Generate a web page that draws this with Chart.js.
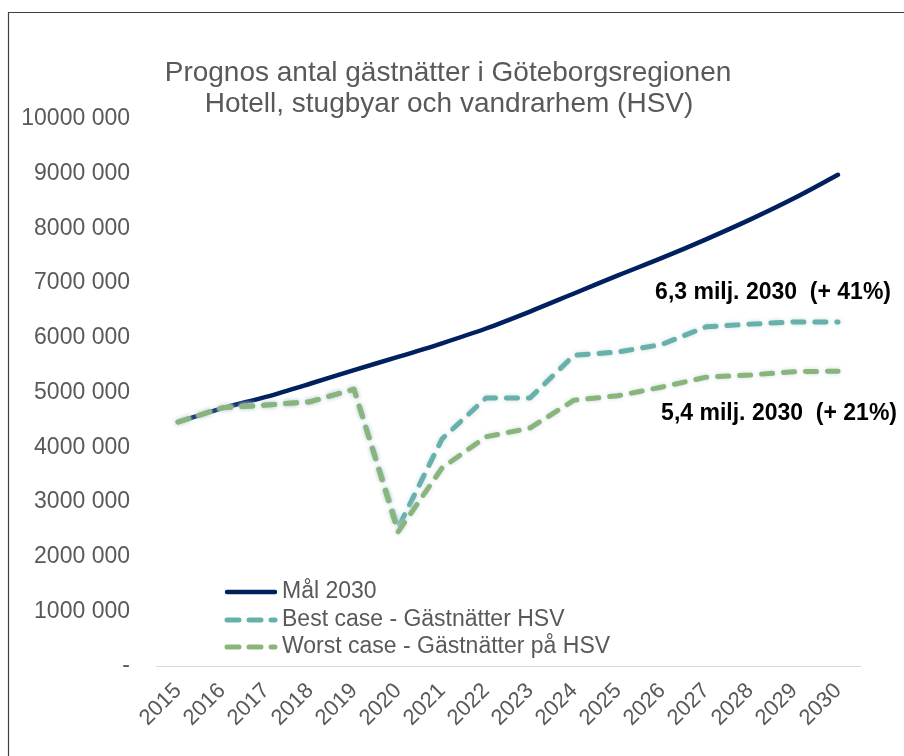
<!DOCTYPE html>
<html>
<head>
<meta charset="utf-8">
<script src="https://cdn.jsdelivr.net/npm/chart.js@4.4.1/dist/chart.umd.min.js"></script>
<style>html,body{margin:0;padding:0;background:#fff;}canvas{display:block;}</style>
</head>
<body>
<canvas id="c" width="904" height="756"></canvas>
<script>
const years = ['2015','2016','2017','2018','2019','2020','2021','2022','2023','2024','2025','2026','2027','2028','2029','2030'];
const malValues   = [4460000,4710000,4920000,5160000,5410000,5650000,5900000,6170000,6480000,6810000,7140000,7460000,7800000,8160000,8550000,8980000];
const bestValues  = [4460000,4720000,4770000,4830000,5060000,2520000,4150000,4900000,4900000,5680000,5740000,5880000,6200000,6250000,6290000,6290000];
const worstValues = [4460000,4720000,4770000,4830000,5060000,2450000,3620000,4190000,4350000,4860000,4940000,5100000,5280000,5320000,5380000,5390000];
const yTickLabels = ['-','1000 000','2000 000','3000 000','4000 000','5000 000','6000 000','7000 000','8000 000','9000 000','10000 000'];
const titleLines = ['Prognos antal gästnätter i Göteborgsregionen','Hotell, stugbyar och vandrarhem (HSV)'];
const seriesLabels = ['Mål 2030','Best case - Gästnätter HSV','Worst case - Gästnätter på HSV'];
const noteBest = '6,3 milj. 2030  (+ 41%)';
const noteWorst = '5,4 milj. 2030  (+ 21%)';

const FONT = '"Liberation Sans", Arial, sans-serif';
const GRAY = '#595959';
const NAVY = '#002060';
const TEAL = '#66b1a9';
const GREEN = '#89b57a';

const framePlugin = {
  id: 'frame',
  afterDraw(chart) {
    const ctx = chart.ctx;
    ctx.save();
    ctx.strokeStyle = '#3f3f3f';
    ctx.lineWidth = 1.2;
    ctx.beginPath();
    ctx.moveTo(8.5, 756);
    ctx.lineTo(8.5, 12.5);
    ctx.lineTo(904, 12.5);
    ctx.stroke();
    ctx.restore();
  }
};

const titlePlugin = {
  id: 'titleLines',
  afterDraw(chart) {
    const ctx = chart.ctx;
    ctx.save();
    ctx.font = '28px ' + FONT;
    ctx.fillStyle = GRAY;
    ctx.textAlign = 'center';
    ctx.textBaseline = 'middle';
    ctx.fillText(titleLines[0], 448, 73);
    ctx.fillText(titleLines[1], 449, 104);
    ctx.restore();
  }
};

const notesPlugin = {
  id: 'notes',
  afterDraw(chart) {
    const ctx = chart.ctx;
    const xs = chart.scales.x, ys = chart.scales.y;
    const xEnd = xs.getPixelForValue(years.length - 1);
    ctx.save();
    ctx.font = 'bold 23px ' + FONT;
    ctx.fillStyle = '#000';
    ctx.textAlign = 'right';
    ctx.textBaseline = 'middle';
    ctx.fillText(noteBest, xEnd + 53, ys.getPixelForValue(bestValues[bestValues.length-1]) - 29);
    ctx.fillText(noteWorst, xEnd + 59, ys.getPixelForValue(worstValues[worstValues.length-1]) + 42);
    ctx.restore();
  }
};

const legendPlugin = {
  id: 'insideLegend',
  afterDraw(chart) {
    const ctx = chart.ctx;
    const x0 = 225, x1 = 278, tx = 282;
    const rows = [592, 620, 647];
    chart.data.datasets.forEach((ds, i) => {
      const y = rows[i];
      ctx.save();
      ctx.strokeStyle = ds.borderColor;
      ctx.lineWidth = ds.borderWidth;
      ctx.lineCap = 'round';
      ctx.setLineDash(ds.borderDash ? [12, 10] : []);
      ctx.beginPath();
      ctx.moveTo(x0 + 2, y);
      ctx.lineTo(x1 - 3, y);
      ctx.stroke();
      ctx.restore();
      ctx.save();
      ctx.font = '23px ' + FONT;
      ctx.fillStyle = GRAY;
      ctx.textAlign = 'left';
      ctx.textBaseline = 'middle';
      ctx.fillText(ds.label, tx, y);
      ctx.restore();
    });
  }
};

const haloPlugin = {
  id: 'halo',
  beforeDatasetDraw(chart, args) {
    const ds = chart.data.datasets[args.index];
    if (ds.halo) {
      const ctx = chart.ctx;
      ctx.save();
      ctx.shadowColor = 'rgba(200,214,224,0.95)';
      ctx.shadowBlur = 4;
    }
  },
  afterDatasetDraw(chart, args) {
    const ds = chart.data.datasets[args.index];
    if (ds.halo) chart.ctx.restore();
  }
};

new Chart(document.getElementById('c'), {
  type: 'line',
  data: {
    labels: years,
    datasets: [
      { label: seriesLabels[0], data: malValues, borderColor: NAVY, borderWidth: 4.5, tension: 0.3,
        pointRadius: 0, borderCapStyle: 'round', borderJoinStyle: 'round', fill: false, order: 2 },
      { label: seriesLabels[1], data: bestValues, borderColor: TEAL, borderWidth: 5, tension: 0,
        borderDash: [11, 11], borderCapStyle: 'round', borderJoinStyle: 'round',
        pointRadius: 0, fill: false, order: 1, halo: true },
      { label: seriesLabels[2], data: worstValues, borderColor: GREEN, borderWidth: 5, tension: 0,
        borderDash: [11, 11], borderCapStyle: 'round', borderJoinStyle: 'round',
        pointRadius: 0, fill: false, order: 0, halo: true }
    ]
  },
  options: {
    responsive: false,
    animation: false,
    devicePixelRatio: 1,
    layout: { padding: { top: 119, right: 44, left: 0, bottom: 0 } },
    plugins: { legend: { display: false }, title: { display: false }, tooltip: { enabled: false } },
    scales: {
      x: {
        offset: true,
        grid: { display: false, drawTicks: false },
        border: { display: true, color: '#d9d9d9', width: 1 },
        ticks: { autoSkip: false, minRotation: 45, maxRotation: 45, padding: 12, color: GRAY,
                 font: { family: FONT, size: 22 } },
        afterFit(scale) { scale.height = 90; }
      },
      y: {
        min: 0, max: 10000000,
        grid: { display: false, drawTicks: false },
        border: { display: false },
        ticks: { stepSize: 1000000, padding: 26, color: GRAY, font: { family: FONT, size: 23 },
                 callback: (v, i) => yTickLabels[i] },
        afterFit(scale) { scale.width = 156; }
      }
    }
  },
  plugins: [haloPlugin, framePlugin, titlePlugin, notesPlugin, legendPlugin]
});
</script>
</body>
</html>
